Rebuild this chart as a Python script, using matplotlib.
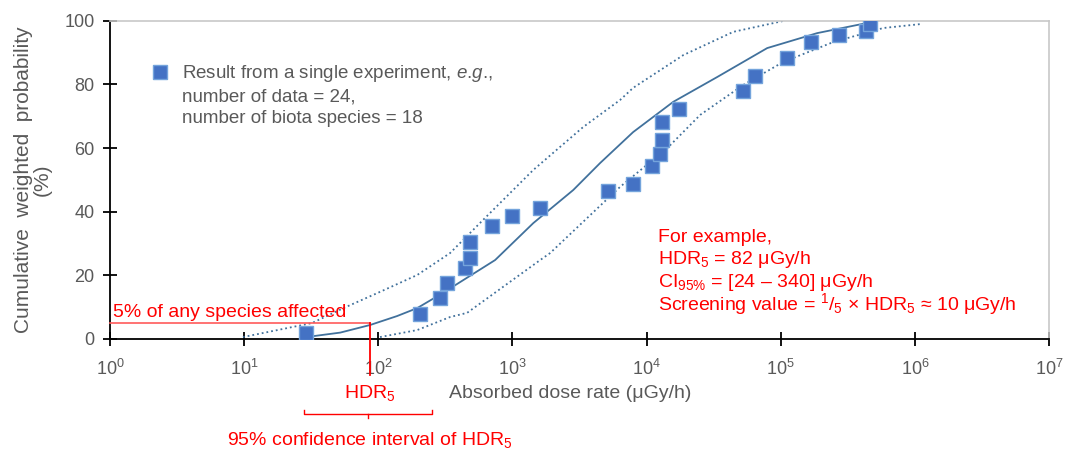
import matplotlib as mpl
mpl.use('Agg')
import matplotlib.pyplot as plt
from matplotlib.lines import Line2D
import numpy as np

plt.rcParams['font.family'] = ['Liberation Sans', 'DejaVu Sans']
plt.rcParams['mathtext.fontset'] = 'custom'
plt.rcParams['mathtext.rm'] = 'Liberation Sans'
plt.rcParams['mathtext.it'] = 'Liberation Sans:italic'
plt.rcParams['mathtext.bf'] = 'Liberation Sans:bold'

GREY = '#595959'
RED = '#FF0000'
LINE = '#41719C'

# single experiment data (dose rate in uGy/h, cumulative weighted prob. in %)
dose = [29, 205, 286, 328, 440, 479, 479, 702, 988, 1610, 5170, 7940,
        11000, 12600, 13000, 13000, 17500, 52500, 64600, 111000, 168000,
        272000, 431000, 464000]
prob = [2.0, 7.9, 12.8, 17.5, 22.2, 25.4, 30.4, 35.5, 38.7, 41.3, 46.4, 48.8,
        54.5, 58.1, 62.6, 68.3, 72.4, 78.0, 82.6, 88.2, 93.4, 95.5, 96.9, 99.0]

# fitted SSD curve and its 95% confidence bounds
fit_x = [29, 52, 87, 138, 195, 304, 743, 1430, 2840, 4510, 7940, 15800,
         33600, 79300, 187000, 442000]
fit_y = [0.6, 2.0, 4.4, 7.2, 9.7, 14.5, 24.8, 36.4, 46.8, 55.3, 65.0, 74.5,
         82.3, 91.4, 96.1, 99.3]
left_x = [9.8, 32, 55, 103, 195, 343, 604, 1430, 3370, 6350, 7940, 18800,
          44300, 104000]
left_y = [0.6, 5.0, 9.7, 14.8, 20.1, 27.0, 37.4, 53.1, 66.6, 75.1, 78.9, 89.2,
          96.5, 99.9]
right_x = [103, 195, 343, 459, 1610, 1910, 6350, 14300, 25100, 52500, 104000,
           247000, 581000, 1140000]
right_y = [0.6, 2.8, 6.9, 8.2, 24.8, 27.0, 47.8, 60.0, 70.4, 79.8, 87.0, 93.3,
           97.7, 99.0]

hdr5 = 87
ci_lo, ci_mid, ci_hi = 28, 84, 252

legend_lines = ['Result from a single experiment, $\\it{e}$.$\\it{g}$.,',
                'number of data = 24,',
                'number of biota species = 18']
example_lines = ['For example,',
                 'HDR$_5$ = 82 \u03bcGy/h',
                 'CI$_{95\\%}$ = [24 \u2013 340] \u03bcGy/h',
                 'Screening value = $^1/_5$ \u00d7 HDR$_5$ \u2248 10 \u03bcGy/h']
example_y = [30.5, 23.6, 16.3, 9.1]

fig = plt.figure(figsize=(10.69, 4.53), dpi=100)
ax = fig.add_axes([0.1029, 0.2517, 0.8784, 0.7026])

ax.plot(fit_x, fit_y, '-', color=LINE, lw=1.3, zorder=2)
ax.plot(left_x, left_y, ':', color=LINE, lw=1.3, zorder=2)
ax.plot(right_x, right_y, ':', color=LINE, lw=1.3, zorder=2)
pts, = ax.plot(dose, prob, 's', ms=10, mfc='#4472C4', mec='#74A4DC', mew=1.0,
               ls='none', zorder=3)

ax.set_xscale('log')
ax.set_xlim(1, 1e7)
ax.set_ylim(0, 100)
ax.set_xticks([10.0**k for k in range(8)])
ax.xaxis.set_minor_locator(mpl.ticker.NullLocator())
ax.set_yticks([0, 20, 40, 60, 80, 100])

for s in ['top', 'right']:
    ax.spines[s].set_color('#C8C8C8')
    ax.spines[s].set_linewidth(1.2)
for s in ['left', 'bottom']:
    ax.spines[s].set_color('black')
    ax.spines[s].set_linewidth(1.3)
ax.tick_params(axis='both', direction='inout', length=10, width=1.3,
               colors='black', labelcolor=GREY, labelsize=13)
ax.tick_params(axis='x', pad=9)
ax.tick_params(axis='y', pad=6)

ax.set_ylabel('Cumulative  weighted  probability\n(%)', fontsize=15,
              color=GREY, linespacing=1.0)
ax.yaxis.set_label_coords(-0.062, 0.5)
ax.set_xlabel('Absorbed dose rate (\u03bcGy/h)', fontsize=14, color=GREY)
ax.xaxis.set_label_coords(0.49, -0.17)
ax.xaxis.label.set_va('center')

# legend: marker on the first line, two more lines underneath
blank = Line2D([], [], ls='none', marker='none')
leg = ax.legend([pts, blank, blank], legend_lines,
                loc='upper left', bbox_to_anchor=(0.035, 0.895),
                frameon=False, fontsize=13.5, labelspacing=0.22,
                handlelength=0.8, handletextpad=0.8, borderpad=0)
for t in leg.get_texts():
    t.set_color(GREY)

# HDR5 guide lines
ax.plot([1, hdr5], [5, 5], color='#FF5A5A', lw=1.2, clip_on=False, zorder=4)
ax.plot([hdr5, hdr5], [5, -11.3], color=RED, lw=1.3, clip_on=False, zorder=4)
ax.text(1.05, 7.0, '5% of any species affected', color=RED, fontsize=14,
        ha='left', va='baseline')
ax.text(hdr5, -17, 'HDR$_5$', color=RED, fontsize=14, ha='center',
        va='center')

# confidence interval bracket
ax.plot([ci_lo, ci_lo, ci_hi, ci_hi], [-22.3, -23.6, -23.6, -22.3],
        color=RED, lw=1.0, clip_on=False)
ax.plot([ci_mid, ci_mid], [-23.6, -24.9], color=RED, lw=1.0, clip_on=False)
ax.text(hdr5, -31.7, '95% confidence interval of HDR$_5$', color=RED,
        fontsize=14, ha='center', va='center')

for line, yy in zip(example_lines, example_y):
    ax.text(12200, yy, line, color=RED, fontsize=14, ha='left',
            va='baseline')

fig.savefig('out.png', dpi=100)
